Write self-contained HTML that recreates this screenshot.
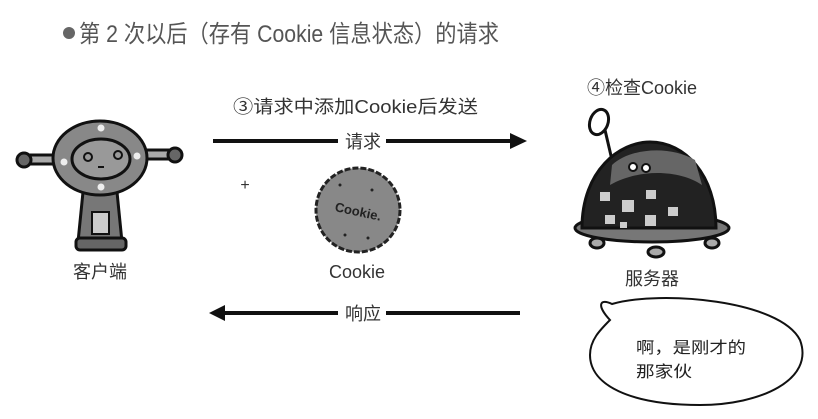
<!DOCTYPE html>
<html><head><meta charset="utf-8"><style>
html,body{margin:0;padding:0;background:#fff;}
svg{display:block;}
text{font-family:"Liberation Sans","Noto Sans CJK SC",sans-serif;}
</style></head><body>
<svg width="818" height="419" viewBox="0 0 818 419" xmlns="http://www.w3.org/2000/svg">
<!-- title -->
<circle cx="69" cy="33" r="6" fill="#666"/>
<text x="79" y="42" font-size="24" fill="#555" textLength="420" lengthAdjust="spacingAndGlyphs">第 2 次以后（存有 Cookie 信息状态）的请求</text>

<!-- client robot -->
<g stroke="#111" stroke-width="3">
<rect x="30" y="155" width="28" height="9" fill="#aaa"/>
<rect x="142" y="150" width="28" height="9" fill="#aaa"/>
<circle cx="24" cy="160" r="7" fill="#666"/>
<circle cx="175" cy="155" r="7" fill="#666"/>
<polygon points="83,192 117,192 122,242 78,242" fill="#777"/>
<rect x="76" y="238" width="50" height="12" rx="4" fill="#666"/>
<rect x="92" y="212" width="17" height="22" fill="#ccc" stroke-width="2"/>
<ellipse cx="100" cy="158" rx="47" ry="37" fill="#888"/>
<ellipse cx="101" cy="159" rx="29" ry="20" fill="#999"/>
</g>
<circle cx="101" cy="128" r="3.5" fill="#eee"/><circle cx="101" cy="187" r="3.5" fill="#eee"/>
<circle cx="64" cy="162" r="3.5" fill="#eee"/><circle cx="137" cy="156" r="3.5" fill="#eee"/>
<circle cx="88" cy="157" r="4" fill="none" stroke="#111" stroke-width="2"/>
<circle cx="118" cy="155" r="4" fill="none" stroke="#111" stroke-width="2"/>
<line x1="98" y1="167" x2="104" y2="167" stroke="#111" stroke-width="2"/>
<text x="100" y="278" font-size="18" fill="#333" text-anchor="middle">客户端</text>

<!-- request arrow -->
<text x="233" y="113" font-size="18" fill="#333" textLength="245" lengthAdjust="spacingAndGlyphs">③请求中添加Cookie后发送</text>
<line x1="213" y1="141" x2="338" y2="141" stroke="#111" stroke-width="4"/>
<line x1="386" y1="141" x2="512" y2="141" stroke="#111" stroke-width="4"/>
<polygon points="510,133 527,141 510,149" fill="#111"/>
<text x="363" y="148" font-size="18" fill="#333" text-anchor="middle">请求</text>

<text x="245" y="190" font-size="16" fill="#333" text-anchor="middle">+</text>
<!-- cookie -->
<circle cx="358" cy="210" r="42" fill="#888" stroke="#222" stroke-width="3" stroke-dasharray="6 2"/>
<text x="358" y="216" font-size="13" font-weight="bold" fill="#222" text-anchor="middle" transform="rotate(12 358 212)">Cookie.</text>
<circle cx="340" cy="185" r="1.5" fill="#222"/><circle cx="372" cy="190" r="1.5" fill="#222"/>
<circle cx="345" cy="235" r="1.5" fill="#222"/><circle cx="368" cy="238" r="1.5" fill="#222"/>
<text x="357" y="278" font-size="18" fill="#333" text-anchor="middle">Cookie</text>

<!-- server -->
<text x="587" y="94" font-size="18" fill="#333">④检查Cookie</text>
<g stroke="#111" stroke-width="3">
<line x1="605" y1="130" x2="612" y2="160"/>
<ellipse cx="599" cy="122" rx="9" ry="13" fill="#fff" transform="rotate(20 599 122)"/>
<ellipse cx="597" cy="243" rx="7" ry="5" fill="#aaa"/>
<ellipse cx="656" cy="252" rx="8" ry="5" fill="#aaa"/>
<ellipse cx="712" cy="243" rx="7" ry="5" fill="#aaa"/>
<ellipse cx="652" cy="228" rx="77" ry="14" fill="#777"/>
<path d="M582,228 C582,170 620,142 650,142 C685,142 716,175 716,228 Z" fill="#222"/>
</g>
<path d="M612,165 C630,148 670,145 695,160 L702,185 C680,170 640,168 610,185 Z" fill="#666"/>
<circle cx="633" cy="167" r="4" fill="#fff" stroke="#111" stroke-width="2"/>
<circle cx="646" cy="168" r="4" fill="#fff" stroke="#111" stroke-width="2"/>
<g fill="#ccc"><rect x="600" y="192" width="10" height="9"/><rect x="622" y="200" width="12" height="12"/><rect x="646" y="190" width="10" height="9"/><rect x="605" y="215" width="10" height="9"/><rect x="645" y="215" width="11" height="11"/><rect x="668" y="207" width="10" height="9"/><rect x="620" y="222" width="7" height="6"/></g>
<text x="652" y="285" font-size="18" fill="#333" text-anchor="middle">服务器</text>

<!-- response arrow -->
<line x1="222" y1="313" x2="338" y2="313" stroke="#111" stroke-width="4"/>
<line x1="386" y1="313" x2="520" y2="313" stroke="#111" stroke-width="4"/>
<polygon points="225,305 209,313 225,321" fill="#111"/>
<text x="363" y="320" font-size="18" fill="#333" text-anchor="middle">响应</text>

<!-- bubble -->
<path d="M610,320 C596,305 600,298 612,304 C660,290 780,300 800,340 C815,380 760,405 700,405 C630,405 590,385 590,355 C590,340 600,330 610,320 Z" fill="#fff" stroke="#111" stroke-width="2"/>
<text x="636" y="353" font-size="16" fill="#222" textLength="110" lengthAdjust="spacingAndGlyphs">啊，是刚才的</text>
<text x="636" y="377" font-size="16" fill="#222" textLength="56" lengthAdjust="spacingAndGlyphs">那家伙</text>
</svg>
</body></html>
